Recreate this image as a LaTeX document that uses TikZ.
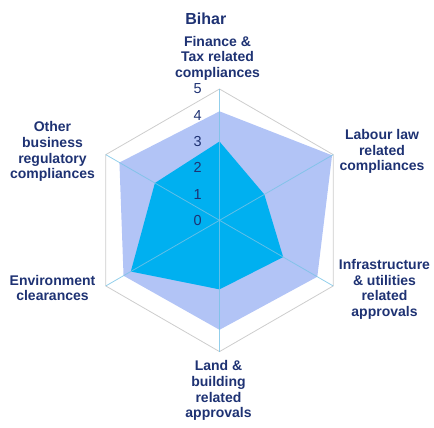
\documentclass[tikz,border=0pt]{standalone}
\usepackage{fontspec}
\setmainfont{Liberation Sans}
\definecolor{navy}{RGB}{30,50,115}
\definecolor{lightser}{RGB}{178,196,246}
\definecolor{darkser}{RGB}{0,176,240}
\definecolor{spoke}{RGB}{120,195,230}
\definecolor{rim}{RGB}{205,205,205}
\tikzset{
  lab/.style={anchor=north, inner sep=0pt, align=center, text=navy,
    font=\fontsize{14}{15.7}\selectfont\bfseries},
  num/.style={anchor=east, inner sep=0pt, text=navy,
    font=\fontsize{14.5}{16}\selectfont},
  ttl/.style={anchor=base, inner sep=0pt, text=navy,
    font=\fontsize{16}{18}\selectfont\bfseries},
}
\begin{document}
\begin{tikzpicture}[x=1pt,y=-1pt]
\useasboundingbox (0,0) rectangle (434,428);
\def\u{26.26}
\begin{scope}[shift={(219.5,220.3)}, yscale=-1]
  \coordinate (c) at (0,0);
  % outer vertices (value 5)
  \foreach \a/\n in {90/a,30/b,-30/c2,-90/d,210/e,150/f}
    \coordinate (o\n) at (\a:{5*\u});
  \draw[rim, line width=0.8pt] (oa) -- (ob) -- (oc2) -- (od) -- (oe) -- (of) -- cycle;
  % light series
  \fill[lightser] (90:{4.15*\u}) -- (30:{4.95*\u}) -- (-30:{4.3*\u}) -- (-90:{4.17*\u}) -- (210:{4.22*\u}) -- (150:{4.4*\u}) -- cycle;
  % dark series
  \fill[darkser] (90:{3*\u}) -- (30:{1.97*\u}) -- (-30:{2.8*\u}) -- (-90:{2.63*\u}) -- (210:{3.9*\u}) -- (150:{2.84*\u}) -- cycle;
  % spokes
  \foreach \n in {a,b,c2,d,e,f}
    \draw[spoke, line width=0.8pt, opacity=0.8] (c) -- (o\n);
  % axis numbers
  \foreach \k in {0,...,5}
    \node[num] (n\k) at (-17.5,{\k*\u}) {\k};
\end{scope}
\node[ttl] (title) at (205.8,25) {Bihar};
\node[lab] (fin) at (217.5,35.8) {Finance \&\\Tax related\\compliances};
\node[lab] (lab) at (382,129) {Labour law\\related\\compliances};
\node[lab] (inf) at (384.5,259) {Infrastructure\\\& utilities\\related\\approvals};
\node[lab] (land) at (218.5,360.5) {Land \&\\building\\related\\approvals};
\node[lab] (env) at (52.5,274.8) {Environment\\clearances};
\node[lab] (oth) at (52.5,121.5) {Other\\business\\regulatory\\compliances};
\end{tikzpicture}
\end{document}
